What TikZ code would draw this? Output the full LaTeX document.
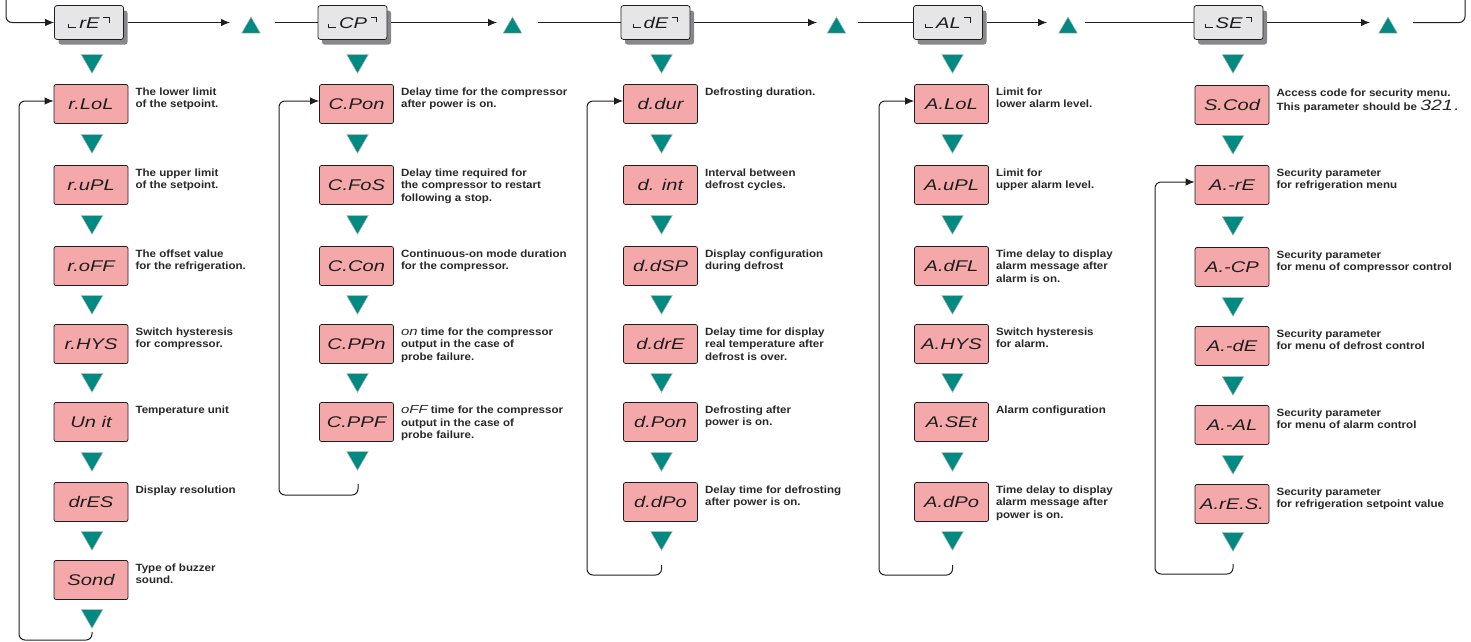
\documentclass[tikz,border=0pt]{standalone}
\usepackage{fontspec}
\usetikzlibrary{arrows.meta,shapes.geometric,shadows,calc}
\setmainfont{Liberation Sans}
\newfontfamily\labfont{Liberation Sans}[FakeStretch=1.1]
\newfontfamily\segfont{Liberation Sans}[FakeStretch=1.3]
\definecolor{tealc}{RGB}{0,138,130}
\definecolor{pinkc}{RGB}{245,168,170}
\definecolor{greyc}{RGB}{230,230,232}
\definecolor{shadc}{RGB}{135,135,140}
\definecolor{linec}{RGB}{30,30,30}
\definecolor{textc}{RGB}{40,40,40}
\newcommand\sgs[1]{{\segfont\mdseries\itshape\fontsize{11.5}{12.5}\selectfont #1}}
\newcommand\lcor{\rule{1pt}{4.2pt}\kern-1pt\rule{8pt}{1pt}\kern3pt}
\newcommand\rcor{\kern3.5pt\raisebox{10.2pt}{\rule{6.5pt}{1pt}}\kern-1pt\raisebox{5.6pt}{\rule{1pt}{5.6pt}}}
\newcommand\pitem[5]{%
  \node[pbox] (#1) at (#2,#3) {#4};
  \node[lab] (#1l) at ($(#1.north east)+(7,3.5)$) {#5};}
\newcommand\tdn[3]{\node[dtri] (#1) at (#2,#3) {};}
\begin{document}
\begin{tikzpicture}[x=1pt,y=-1pt,
  gbox/.style={draw=linec, fill=greyc, rounded corners=2.5pt, line width=0.75pt,
    minimum width=69pt, minimum height=34pt, inner sep=0pt, text=linec,
    font=\segfont\itshape\fontsize{15.5}{15.5}\selectfont,
    drop shadow={shadow xshift=4pt, shadow yshift=-5pt, fill=shadc, opacity=1}},
  pbox/.style={draw=linec, fill=pinkc, rounded corners=2pt, line width=0.75pt,
    minimum width=74pt, minimum height=39pt, inner sep=0pt, text=linec,
    font=\segfont\itshape\fontsize{15.5}{15.5}\selectfont},
  lab/.style={anchor=north west, inner sep=0pt, align=left, text=textc,
    font=\labfont\bfseries\fontsize{10.5}{12.5}\selectfont},
  dtri/.style={regular polygon, regular polygon sides=3, shape border rotate=180,
    minimum size=25pt, inner sep=0pt, fill=tealc, draw=gray!55, line width=0.5pt, yshift=3.2pt},
  utri/.style={regular polygon, regular polygon sides=3,
    minimum size=21.5pt, inner sep=0pt, fill=tealc, draw=gray!55, line width=0.5pt, yshift=-2.7pt},
  conn/.style={draw=linec, line width=1pt},
  arr/.style={conn, -{Latex[length=9pt,width=7.5pt]}}
]
\useasboundingbox (0,0) rectangle (1471,641);

% ---------- top row ----------
\node[gbox] (g1) at (89,22.5) {\lcor rE\rcor};
\node[gbox] (g2) at (352.5,22.5) {\lcor CP\rcor};
\node[gbox] (g3) at (655.5,22.5) {\lcor dE\rcor};
\node[gbox] (g4) at (948,22.5) {\lcor AL\rcor};
\node[gbox] (g5) at (1228.5,22.5) {\lcor SE\rcor};

\node[utri] (u1) at (251,25) {};
\node[utri] (u2) at (512.5,25) {};
\node[utri] (u3) at (836.5,25) {};
\node[utri] (u4) at (1068,25) {};
\node[utri] (u5) at (1388,25) {};

\coordinate (entry) at (6,-2);
\draw[arr, rounded corners=6pt] (entry) |- (g1.west);
\coordinate (a1) at (230,22.5);
\coordinate (a2) at (497,22.5);
\coordinate (a3) at (817,22.5);
\coordinate (a4) at (1047,22.5);
\coordinate (a5) at (1370,22.5);
\draw[arr] ([xshift=4pt]g1.east) -- (a1);
\draw[arr] ([xshift=4pt]g2.east) -- (a2);
\draw[arr] ([xshift=4pt]g3.east) -- (a3);
\draw[arr] ([xshift=4pt]g4.east) -- (a4);
\draw[arr] ([xshift=4pt]g5.east) -- (a5);
\coordinate (b1) at (275,22.5);
\coordinate (b2) at (538,22.5);
\coordinate (b3) at (858,22.5);
\coordinate (b4) at (1085,22.5);
\coordinate (b5) at (1413,22.5);
\draw[conn] (b1) -- (g2.west);
\draw[conn] (b2) -- (g3.west);
\draw[conn] (b3) -- (g4.west);
\draw[conn] (b4) -- (g5.west);
\coordinate (exit) at (1465,-2);
\draw[conn, rounded corners=6pt] (b5) -| (exit);

% ---------- column 1 ----------
\tdn{t10}{92}{64}
\pitem{p11}{91}{104}{r.LoL}{The lower limit\\of the setpoint.}
\tdn{t11}{92}{144}
\pitem{p12}{91}{185}{r.uPL}{The upper limit\\of the setpoint.}
\tdn{t12}{92}{225}
\pitem{p13}{91}{266}{r.oFF}{The offset value\\for the refrigeration.}
\tdn{t13}{92}{305}
\pitem{p14}{91}{344}{r.HYS}{Switch hysteresis\\for compressor.}
\tdn{t14}{92}{383}
\pitem{p15}{91}{422}{Un it}{Temperature unit}
\tdn{t15}{92}{462}
\pitem{p16}{91}{502}{drES}{Display resolution}
\tdn{t16}{92}{541}
\pitem{p17}{91}{580}{Sond}{Type of buzzer\\sound.}
\tdn{t17}{92}{619}
\coordinate (l1) at (92,632);
\draw[arr, rounded corners=6pt] (l1) |- (19,640) |- ([yshift=3pt]p11.west);

% ---------- column 2 ----------
\tdn{t20}{357.5}{64}
\pitem{p21}{356.5}{104}{C.Pon}{Delay time for the compressor\\after power is on.}
\tdn{t21}{357.5}{144}
\pitem{p22}{356.5}{185}{C.FoS}{Delay time required for\\the compressor to restart\\following a stop.}
\tdn{t22}{357.5}{225}
\pitem{p23}{356.5}{266}{C.Con}{Continuous-on mode duration\\for the compressor.}
\tdn{t23}{357.5}{305}
\pitem{p24}{356.5}{344}{C.PPn}{\sgs{on} time for the compressor\\output in the case of\\probe failure.}
\tdn{t24}{357.5}{383}
\pitem{p25}{356.5}{422}{C.PPF}{\sgs{oFF} time for the compressor\\output in the case of\\probe failure.}
\tdn{t25}{357.5}{461}
\coordinate (l2) at (358,484);
\draw[arr, rounded corners=6pt] (l2) |- (279,495) |- ([yshift=3pt]p21.west);

% ---------- column 3 ----------
\tdn{t30}{661.5}{64}
\pitem{p31}{660.5}{104}{d.dur}{Defrosting duration.}
\tdn{t31}{661.5}{144}
\pitem{p32}{660.5}{185}{d. int}{Interval between\\defrost cycles.}
\tdn{t32}{661.5}{225}
\pitem{p33}{660.5}{266}{d.dSP}{Display configuration\\during defrost}
\tdn{t33}{661.5}{305}
\pitem{p34}{660.5}{344}{d.drE}{Delay time for display\\real temperature after\\defrost is over.}
\tdn{t34}{661.5}{383}
\pitem{p35}{660.5}{422}{d.Pon}{Defrosting after\\power is on.}
\tdn{t35}{661.5}{462}
\pitem{p36}{660.5}{502}{d.dPo}{Delay time for defrosting\\after power is on.}
\tdn{t36}{661.5}{541}
\coordinate (l3) at (661.5,565);
\draw[arr, rounded corners=6pt] (l3) |- (587,575) |- ([yshift=3pt]p31.west);

% ---------- column 4 ----------
\tdn{t40}{952.5}{64}
\pitem{p41}{951.5}{104}{A.LoL}{Limit for\\lower alarm level.}
\tdn{t41}{952.5}{144}
\pitem{p42}{951.5}{185}{A.uPL}{Limit for\\upper alarm level.}
\tdn{t42}{952.5}{225}
\pitem{p43}{951.5}{266}{A.dFL}{Time delay to display\\alarm message after\\alarm is on.}
\tdn{t43}{952.5}{305}
\pitem{p44}{951.5}{344}{A.HYS}{Switch hysteresis\\for alarm.}
\tdn{t44}{952.5}{383}
\pitem{p45}{951.5}{422}{A.SEt}{Alarm configuration}
\tdn{t45}{952.5}{462}
\pitem{p46}{951.5}{502}{A.dPo}{Time delay to display\\alarm message after\\power is on.}
\tdn{t46}{952.5}{541}
\coordinate (l4) at (952.5,565);
\draw[arr, rounded corners=6pt] (l4) |- (879,575) |- ([yshift=3pt]p41.west);

% ---------- column 5 ----------
\tdn{t50}{1233}{64}
\pitem{p51}{1232}{105}{S.Cod}{Access code for security menu.\\This parameter should be {\segfont\mdseries\itshape\fontsize{15}{12.5}\selectfont 321}\,.}
\tdn{t51}{1233}{145}
\pitem{p52}{1232}{185}{A.-rE}{Security parameter\\for refrigeration menu}
\tdn{t52}{1233}{226}
\pitem{p53}{1232}{267}{A.-CP}{Security parameter\\for menu of compressor control}
\tdn{t53}{1233}{307}
\pitem{p54}{1232}{346}{A.-dE}{Security parameter\\for menu of defrost control}
\tdn{t54}{1233}{386}
\pitem{p55}{1232}{425}{A.-AL}{Security parameter\\for menu of alarm control}
\tdn{t55}{1233}{465}
\pitem{p56}{1232}{504}{A.rE.S.}{Security parameter\\for refrigeration setpoint value}
\tdn{t56}{1233}{542}
\coordinate (l5) at (1233,564);
\draw[arr, rounded corners=6pt] (l5) |- (1155,574) |- ([yshift=3pt]p52.west);
\end{tikzpicture}
\end{document}
